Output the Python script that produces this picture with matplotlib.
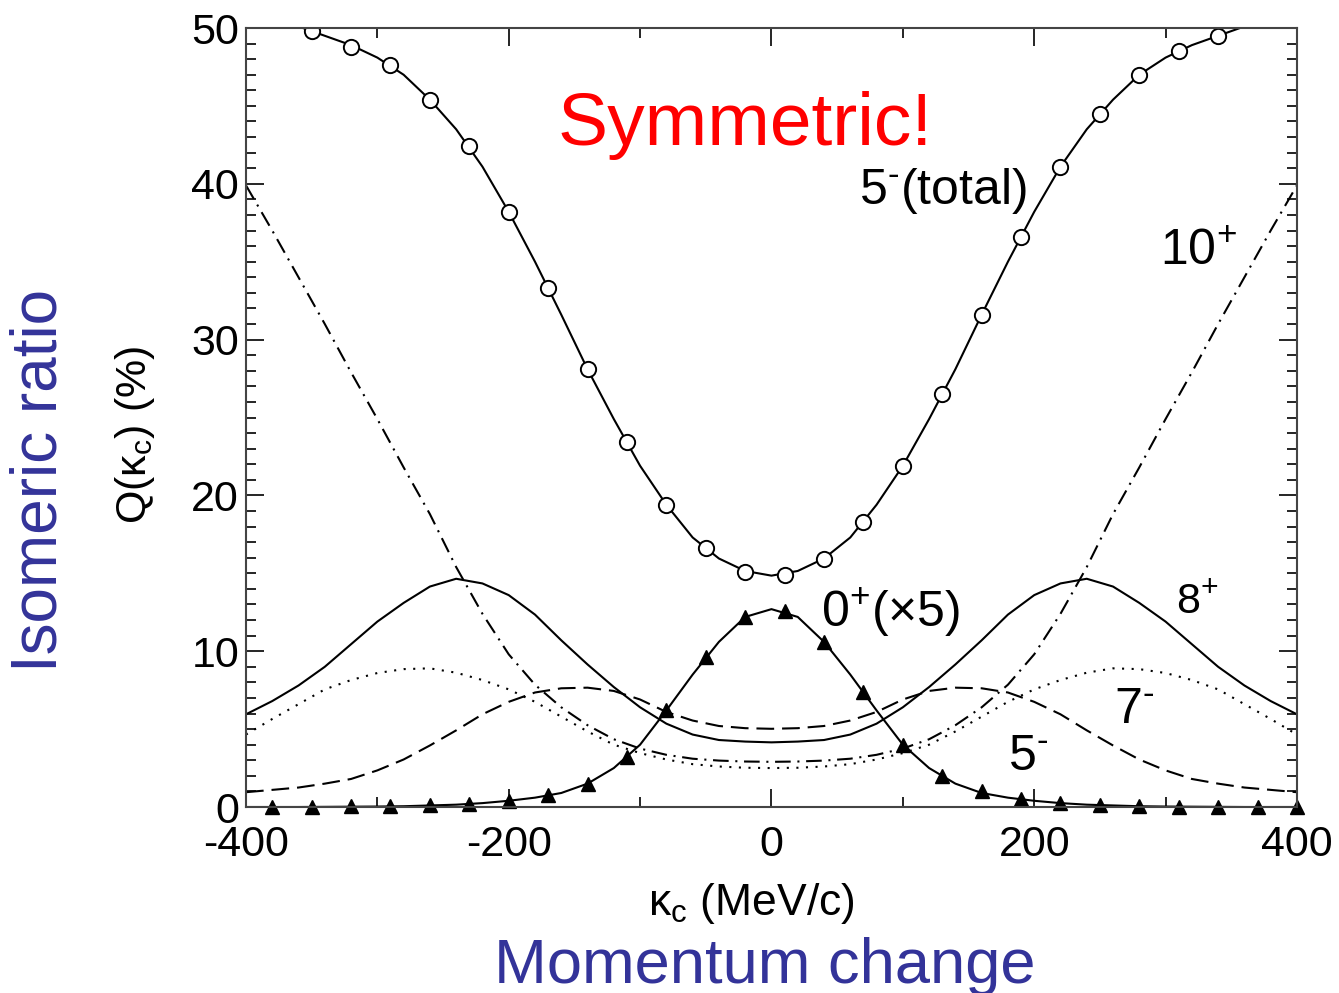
import matplotlib
matplotlib.use("Agg")
import matplotlib.pyplot as plt
from matplotlib.ticker import MultipleLocator

plt.rcParams['font.family'] = ['Liberation Sans', 'DejaVu Sans']
plt.rcParams['mathtext.fontset'] = 'custom'
plt.rcParams['mathtext.rm'] = 'Liberation Sans'
plt.rcParams['mathtext.it'] = 'Liberation Sans'
plt.rcParams['axes.unicode_minus'] = False

# momentum grid for the smooth curves (MeV/c)
kappa = [-400, -380, -360, -340, -320, -300, -280, -260, -240, -220, -200,
         -180, -160, -140, -120, -100, -80, -60, -40, -20, 0,
         20, 40, 60, 80, 100, 120, 140, 160, 180, 200,
         220, 240, 260, 280, 300, 320, 340, 360, 380, 400]

q_8plus = [5.95, 6.8, 7.8, 9.0, 10.45, 11.9, 13.1, 14.15, 14.65, 14.35, 13.6,
           12.35, 10.7, 9.15, 7.7, 6.4, 5.35, 4.65, 4.3, 4.2, 4.15,
           4.2, 4.3, 4.65, 5.35, 6.4, 7.7, 9.15, 10.7, 12.35, 13.6,
           14.35, 14.65, 14.15, 13.1, 11.9, 10.45, 9.0, 7.8, 6.8, 5.95]
q_7minus = [4.65, 5.65, 6.6, 7.55, 8.15, 8.6, 8.85, 8.9, 8.62, 8.15, 7.55,
            6.75, 5.8, 4.85, 4.0, 3.46, 3.05, 2.75, 2.6, 2.52, 2.5,
            2.52, 2.6, 2.75, 3.05, 3.46, 4.0, 4.85, 5.8, 6.75, 7.55,
            8.15, 8.62, 8.9, 8.85, 8.6, 8.15, 7.55, 6.6, 5.65, 4.65]
q_5minus = [0.95, 1.1, 1.25, 1.5, 1.8, 2.35, 3.05, 3.95, 4.92, 5.95, 6.75,
            7.35, 7.62, 7.66, 7.45, 6.9, 6.1, 5.55, 5.2, 5.06, 5.02,
            5.06, 5.2, 5.55, 6.1, 6.9, 7.45, 7.66, 7.62, 7.35, 6.75,
            5.95, 4.92, 3.95, 3.05, 2.35, 1.8, 1.5, 1.25, 1.1, 0.95]
q_10plus = [39.9, 37.0, 34.0, 31.0, 27.9, 24.9, 21.8, 18.8, 15.4, 12.4, 9.8,
            7.85, 6.4, 5.25, 4.35, 3.75, 3.35, 3.1, 2.98, 2.92, 2.9,
            2.92, 2.98, 3.1, 3.35, 3.75, 4.35, 5.25, 6.4, 7.85, 9.8,
            12.4, 15.4, 18.8, 21.8, 24.9, 27.9, 31.0, 34.0, 37.0, 39.9]
q_total_curve = [51.0, 50.6, 50.1, 49.5, 48.9, 48.1, 47.0, 45.4, 43.5, 41.1, 38.2,
                 35.0, 31.6, 28.1, 24.9, 21.9, 19.4, 17.3, 15.95, 15.15, 14.85,
                 15.15, 15.95, 17.3, 19.4, 21.9, 24.9, 28.1, 31.6, 35.0, 38.2,
                 41.1, 43.5, 45.4, 47.0, 48.1, 48.9, 49.5, 50.1, 50.6, 51.0]
q_0plus_curve = [0.0, 0.0, 0.0, 0.01, 0.02, 0.03, 0.05, 0.1, 0.15, 0.25, 0.4,
                 0.6, 0.9, 1.5, 2.5, 4.0, 6.2, 8.5, 10.6, 12.2, 12.7,
                 12.2, 10.6, 8.5, 6.2, 4.0, 2.5, 1.5, 0.9, 0.6, 0.4,
                 0.25, 0.15, 0.1, 0.05, 0.03, 0.02, 0.01, 0.0, 0.0, 0.0]

# 5- total (open circles)
kappa_total = [-350, -320, -290, -260, -230, -200, -170, -140, -110, -80, -50,
               -20, 10, 40, 70, 100, 130, 160, 190, 220, 250, 280, 310, 340]
q_total = [49.8, 48.8, 47.6, 45.4, 42.4, 38.2, 33.3, 28.1, 23.4, 19.4, 16.6,
           15.1, 14.9, 15.9, 18.3, 21.9, 26.5, 31.6, 36.6, 41.1, 44.5, 47.0,
           48.5, 49.5]

# 0+ (x5) (filled triangles)
kappa_0plus = [-380, -350, -320, -290, -260, -230, -200, -170, -140, -110, -80,
               -50, -20, 10, 40, 70, 100, 130, 160, 190, 220, 250, 280, 310,
               340, 370, 400]
q_0plus = [0.0, 0.0, 0.05, 0.05, 0.1, 0.2, 0.4, 0.8, 1.5, 3.2, 6.2, 9.6, 12.2,
           12.6, 10.6, 7.4, 4.0, 2.0, 1.0, 0.5, 0.25, 0.1, 0.05, 0.02, 0.0, 0.0, 0.0]

fig = plt.figure(figsize=(13.39, 9.93), dpi=100)
ax = fig.add_axes([0.1837, 0.1873, 0.7849, 0.7845])

ax.plot(kappa, q_8plus, color='black', lw=1.5)
ax.plot(kappa, q_7minus, color='black', lw=1.5, linestyle=(0, (1, 3.6)))
ax.plot(kappa, q_5minus, color='black', lw=1.5, linestyle=(0, (8.5, 3.8)))
ax.plot(kappa, q_10plus, color='black', lw=1.5, linestyle=(0, (7.5, 3.2, 1, 3.2)))
ax.plot(kappa, q_total_curve, color='black', lw=1.5)
ax.plot(kappa_total, q_total, 'o', ms=11, mfc='white', mec='black', mew=1.4)
ax.plot(kappa, q_0plus_curve, color='black', lw=1.5)
ax.plot(kappa_0plus, q_0plus, '^', color='black', ms=10, clip_on=False)

ax.set_xlim(-400, 400)
ax.set_ylim(0, 50)
ax.xaxis.set_major_locator(MultipleLocator(200))
ax.xaxis.set_minor_locator(MultipleLocator(100))
ax.yaxis.set_major_locator(MultipleLocator(10))
ax.yaxis.set_minor_locator(MultipleLocator(1))
ax.tick_params(which='both', direction='in', top=True, right=True, width=1.2)
ax.tick_params(which='major', length=13)
ax.tick_params(which='minor', length=7)
ax.tick_params(axis='x', labelsize=31, pad=13)
ax.tick_params(axis='y', labelsize=31, pad=5)
for s in ax.spines.values():
    s.set_linewidth(1.5)
    s.set_color('#444444')

# curve labels
ax.text(-163, 42.5, 'Symmetric!', color='red', fontsize=54, va='baseline')
ax.text(67, 38.7, r'5$^{\text{-}}$(total)', fontsize=36, va='baseline')
ax.text(296, 34.8, r'10$^{+}$', fontsize=36, va='baseline')
ax.text(38, 11.55, r'0$^{+}$(×5)', fontsize=36, va='baseline')
ax.text(308, 12.45, r'8$^{+}$', fontsize=31, va='baseline')
ax.text(261, 5.4, r'7$^{\text{-}}$', fontsize=36, va='baseline')
ax.text(180, 2.4, r'5$^{\text{-}}$', fontsize=36, va='baseline')

# axis titles
fig.text(751 / 1339, 1 - 903 / 993, r'κ$_{\mathrm{c}}$ (MeV/c)', fontsize=32,
         ha='center', va='center')
fig.text(135 / 1339, 1 - 435 / 993, r'Q(κ$_{\mathrm{c}}$) (%)', fontsize=31,
         ha='center', va='center', rotation=90)
fig.text(40 / 1339, 1 - 480 / 993, 'Isomeric ratio', fontsize=46, color='#333399',
         ha='center', va='center', rotation=90)
fig.text(765 / 1339, 1 - 983 / 993, 'Momentum change', fontsize=45.5, color='#333399',
         ha='center', va='baseline')

fig.savefig('out.png', dpi=100)
